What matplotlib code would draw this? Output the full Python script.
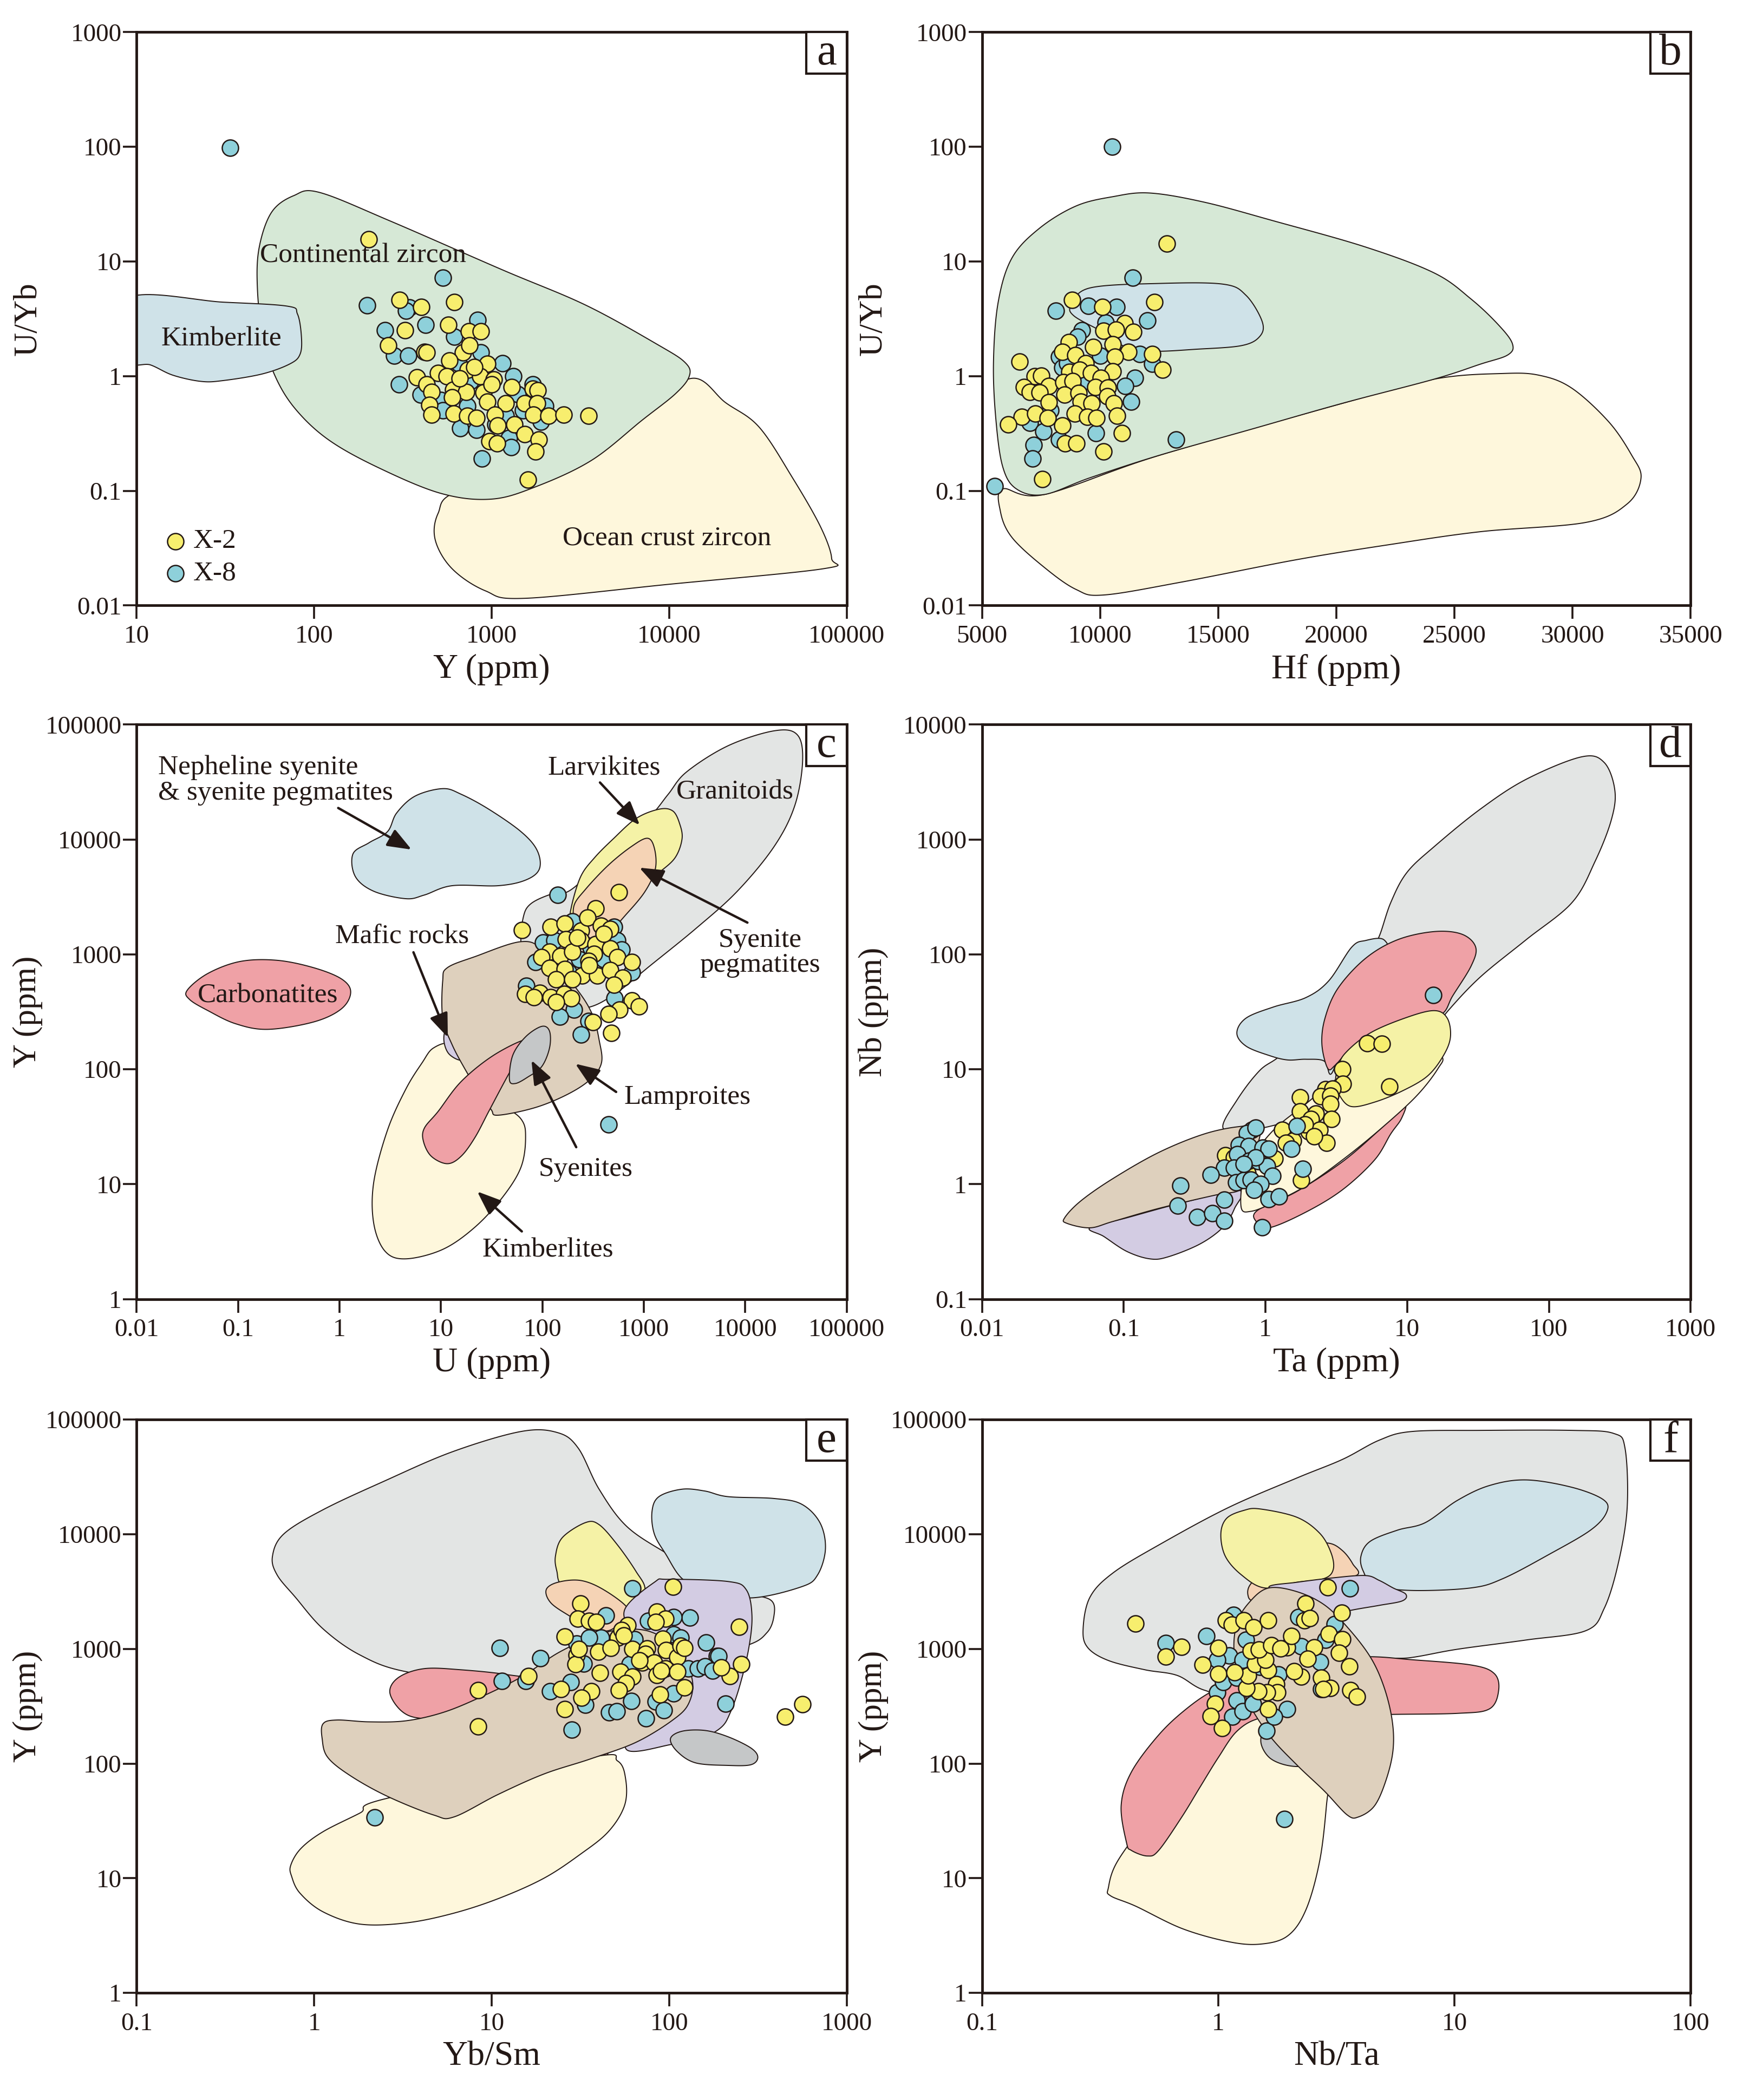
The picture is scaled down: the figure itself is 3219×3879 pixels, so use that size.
import matplotlib
matplotlib.use('Agg')
import matplotlib.pyplot as plt
from matplotlib.patches import Rectangle
import numpy as np

plt.rcParams['font.family'] = ['Liberation Serif', 'DejaVu Serif']

# ---------------- sample data (X-2 yellow, X-8 blue) ----------------
# a: Y (ppm) vs U/Yb
a_y_x2 = [203, 303, 402, 615, 326, 569, 742, 871, 262, 417, 690, 750, 576, 945, 380, 500, 556, 733, 860, 1030,
          431, 458, 607, 720, 897, 1297, 1700, 1810, 447, 600, 945, 1200, 1535, 1800, 458, 613, 730, 820, 1040,
          1720, 2095, 2550, 3520, 1080, 1340, 1535, 1840, 970, 1070, 1760, 1600, 430, 800, 1000, 660]
a_uyb_x2 = [15.6, 4.6, 4.0, 4.4, 2.5, 2.8, 2.45, 2.45, 1.86, 1.63, 1.6, 1.86, 1.36, 1.28, 0.98, 1.06, 1.0, 1.14, 1.0, 0.93,
            0.85, 0.73, 0.76, 0.73, 0.72, 0.8, 0.78, 0.75, 0.56, 0.65, 0.6, 0.58, 0.58, 0.58, 0.46, 0.47, 0.45, 0.43, 0.46,
            0.46, 0.45, 0.46, 0.45, 0.37, 0.38, 0.31, 0.28, 0.27, 0.26, 0.22, 0.125, 1.6, 1.2, 0.85, 0.95]
a_y_x8 = [33.5, 532, 199, 343, 330, 423, 251, 834, 616, 283, 340, 870, 1150, 300, 1320, 1710, 398, 518, 730, 2000,
          530, 1500, 667, 820, 1050, 1250, 1290, 880, 650, 760, 1200, 1900, 1400]
a_uyb_x8 = [98, 7.2, 4.15, 3.96, 3.7, 2.8, 2.5, 3.1, 2.2, 1.5, 1.5, 1.6, 1.3, 0.85, 1.0, 0.85, 0.69, 0.62, 0.55, 0.55,
            0.5, 0.5, 0.35, 0.34, 0.38, 0.29, 0.24, 0.19, 1.3, 0.9, 0.45, 0.4, 0.7]

# b: Hf (ppm) vs U/Yb
b_hf_x2 = [12827, 8807, 10088, 12300, 11027, 10150, 10677, 11405, 8684, 9711, 10527, 8395, 8948, 11203, 12213, 10633,
           12634, 6595, 9386, 10525, 8702, 9140, 9623, 7228, 7517, 6771, 10018, 7824, 8439, 8834, 9800, 10325, 7034,
           7429, 8483, 9097, 10300, 7824, 9184, 9650, 10588, 6683, 7254, 7780, 8921, 9448, 9843, 10720, 6113, 8395,
           10922, 8526, 9009, 10150, 7561]
b_uyb_x2 = [14.3, 4.6, 4.0, 4.4, 2.9, 2.48, 2.55, 2.43, 1.98, 1.8, 1.9, 1.62, 1.52, 1.62, 1.55, 1.48,
            1.13, 1.33, 1.3, 1.1, 1.09, 1.13, 1.07, 1.0, 1.01, 0.8, 0.97, 0.82, 0.88, 0.9, 0.8, 0.79, 0.73,
            0.72, 0.69, 0.71, 0.67, 0.59, 0.6, 0.58, 0.58, 0.44, 0.47, 0.43, 0.47, 0.44, 0.43, 0.45, 0.38, 0.37,
            0.32, 0.26, 0.26, 0.22, 0.126]
b_hf_x8 = [10500, 11387, 5543, 8123, 9492, 10703, 12010, 10238, 9228, 9053, 11686, 8263, 12213, 8395, 11466, 11054,
           11317, 7034, 7605, 9825, 13221, 8263, 7184, 7140, 8700, 9500, 7900, 10000, 8600]
b_uyb_x8 = [100, 7.2, 0.11, 3.7, 4.1, 4.0, 3.06, 2.94, 2.5, 2.2, 1.56, 1.48, 1.28, 1.19, 0.97, 0.82,
            0.6, 0.39, 0.33, 0.32, 0.28, 0.28, 0.25, 0.19, 0.75, 0.9, 0.5, 1.5, 1.3]

# c: U (ppm) vs Y (ppm)
c_u_x2 = [570, 62.5, 333, 120, 167, 241, 279, 379, 465, 171, 241, 335, 465, 118, 151, 197, 322, 284, 548, 760, 98,
          118, 167, 247, 349, 465, 620, 136, 197, 505, 68, 94, 120, 164, 193, 136, 82, 760, 896, 571, 447, 315, 475,
          220, 400, 290]
c_y_x2 = [3470, 1620, 2520, 1730, 1845, 1600, 2090, 1770, 1665, 1352, 1325, 1220, 1122, 1055, 970, 1055, 1010, 875,
          950, 858, 950, 757, 741, 655, 655, 726, 628, 603, 603, 543, 451, 460, 424, 451, 415, 382, 424, 398, 352,
          330, 304, 258, 206, 1400, 1500, 800]
c_u_x8 = [142, 197, 505, 548, 102, 131, 85, 760, 232, 69, 205, 148, 515, 284, 241, 450, 400, 180, 600, 300]
c_y_x8 = [3300, 1940, 1735, 1325, 1270, 1325, 858, 697, 900, 532, 330, 286, 415, 263, 200, 33, 900, 700, 1100, 1150]

# d: Ta (ppm) vs Nb (ppm)
d_ta_x2 = [5.2, 6.6, 3.47, 3.5, 7.5, 2.66, 2.98, 2.45, 2.87, 2.87, 1.76, 1.76, 2.27, 2.1, 2.93, 1.31, 2.02, 2.41,
           2.71, 1.56, 1.39, 0.52, 1.16, 1.79, 0.6, 0.75, 1.9, 2.2]
d_nb_x2 = [16.8, 16.6, 10, 7.5, 7.1, 6.7, 6.8, 5.8, 5.9, 5.0, 5.7, 4.3, 4.1, 3.7, 3.7, 2.97, 2.87, 2.97,
           2.3, 2.4, 2.3, 1.79, 1.67, 1.08, 1.7, 1.25, 3.3, 2.6]
d_ta_x8 = [15.3, 1.66, 1.53, 0.8, 0.74, 0.85, 0.65, 0.76, 0.96, 1.05, 0.63, 0.77, 0.89, 0.51, 0.41, 0.6, 1.03, 1.83,
           1.12, 0.62, 0.7, 0.79, 0.92, 0.83, 0.25, 0.24, 0.51, 0.33, 0.42, 0.51, 1.05, 1.24, 0.95, 0.85, 0.7]
d_nb_x8 = [44, 3.2, 2.03, 2.97, 2.77, 3.1, 2.2, 2.15, 2.07, 2.03, 1.82, 1.6, 1.58, 1.39, 1.2, 1.39, 1.44, 1.36,
           1.18, 1.04, 1.08, 1.1, 1.0, 0.89, 0.97, 0.65, 0.73, 0.52, 0.56, 0.48, 0.74, 0.78, 0.42, 1.7, 1.5]

# e: Yb/Sm vs Y (ppm)
e_ybsm_x2 = [565, 451, 105, 248, 254, 219, 197, 85, 95, 84, 31.6, 30.6, 35.3, 38.8, 25.8, 30.2, 29.7, 40, 51.4, 46.8,
             58.2, 53.8, 62, 75, 73.6, 70.3, 82, 92, 96, 111, 116, 122, 95, 85, 111, 122, 89, 53, 62, 57, 52, 40.6,
             36.4, 32, 24.6, 25.8, 16.1, 8.4, 8.4, 31, 55.6, 68, 90]
e_y_x2 = [329, 256, 3480, 1550, 733, 582, 688, 2120, 1830, 1720, 2480, 1830, 1760, 1720, 1282, 883, 733, 940, 1258,
          1021, 1614, 1455, 1000, 1010, 902, 763, 763, 1232, 977, 848, 1064, 1021, 673, 594, 632, 463, 400, 632, 570,
          504, 436, 620, 427, 376, 445, 299, 582, 437, 211, 1000, 1312, 795, 646]
e_ybsm_x8 = [62, 186, 161, 207, 131, 106, 76, 44, 30.2, 33, 41.3, 64, 106, 84, 93, 74, 61, 46, 50.6, 21.4, 27.9,
             33.6, 28.3, 15.6, 11.4, 11.1, 18.8, 35.3, 128, 145, 159, 175, 189, 106, 116, 60, 2.2]
e_y_x8 = [3370, 865, 1133, 332, 1866, 1900, 1750, 1950, 1110, 747, 1258, 1208, 408, 346, 293, 248, 353, 281, 286,
          427, 514, 325, 197, 525, 525, 1021, 830, 1258, 673, 673, 702, 646, 865, 1340, 1258, 733, 34]

# f: Nb/Ta vs Y (ppm)
f_nbta_x2 = [0.446, 0.6, 0.7, 1.0, 0.86, 1.0, 0.97, 0.93, 1.04, 1.63, 1.08, 1.14, 1.28, 1.41, 1.63, 2.34, 2.31, 2.44,
             2.9, 3.33, 2.94, 3.36, 2.55, 3.25, 3.58, 3.62, 3.87, 2.73, 2.98, 2.79, 2.39, 2.24, 2.09, 1.96, 2.04, 1.76,
             1.78, 1.61, 1.48, 1.32, 1.34, 1.17, 1.43, 1.63, 1.58, 1.37, 1.49, 1.68, 1.84]
f_y_x2 = [1656, 861, 1045, 1021, 728, 608, 334, 258, 203, 298, 1770, 1620, 1770, 1546, 1770, 2483, 1770, 1854,
          3436, 2070, 1350, 1216, 1030, 920, 708, 437, 382, 560, 458, 447, 822, 573, 641, 1030, 1291, 490,
          418, 418, 428, 457, 586, 627, 735, 656, 803, 964, 984, 1078, 1008]
f_nbta_x8 = [0.6, 0.89, 0.99, 1.15, 1.2, 1.27, 1.4, 1.6, 1.96, 1.72, 1.16, 2.19, 3.6, 3.11, 2.85, 1.31, 1.11, 0.99,
             1.05, 1.2, 1.27, 2.24, 2.7, 2.73, 1.91, 1.5, 1.8]
f_y_x8 = [1128, 1291, 418, 255, 357, 285, 334, 194, 298, 255, 1980, 1893, 3375, 1650, 1205, 1205, 879, 803,
          512, 560, 803, 1054, 767, 447, 32.7, 700, 600]

# ---------------- discrimination fields (outline vertices; log10 units on log axes) ----------------
a_ocean = [(4.129, -0.019), (4.318, -0.232), (4.506, -0.444), (4.695, -0.888), (4.852, -1.313), (4.915, -1.591),
           (4.868, -1.68), (4.003, -1.815), (3.186, -1.938), (2.965, -1.873), (2.777, -1.68), (2.682, -1.429),
           (2.698, -1.197), (2.808, -1.004), (3.374, -0.772), (3.846, -0.309)]
a_continental = [(2.03, 1.602), (2.431, 1.351), (3.06, 0.927), (3.531, 0.618), (3.94, 0.27), (4.091, 0.116),
                 (4.113, 0.0), (4.035, -0.154), (3.846, -0.386), (3.563, -0.734), (3.248, -0.965), (2.997, -1.073),
                 (2.714, -1.023), (2.368, -0.803), (2.085, -0.56), (1.896, -0.29), (1.78, 0.0), (1.71, 0.347),
                 (1.68, 0.772), (1.69, 1.12), (1.76, 1.429), (1.885, 1.574)]
a_kimberlite = [(0.95, 0.68), (1.487, 0.645), (1.849, 0.61), (1.906, 0.541), (1.928, 0.347), (1.921, 0.193),
                (1.865, 0.108), (1.708, 0.019), (1.487, -0.039), (1.362, -0.046), (1.204, 0.008), (1.079, 0.097),
                (0.95, 0.15)]

b_ocean = [(5875, -0.984), (5778, -1.179), (6264, -1.406), (7624, -1.666), (8985, -1.861), (10152, -1.909),
           (13456, -1.796), (18316, -1.601), (22204, -1.471), (26092, -1.357), (30564, -1.276), (32314, -1.114),
           (32897, -0.887), (32508, -0.692), (31536, -0.4), (29980, -0.107), (28620, 0.006), (27064, 0.023),
           (24148, -0.026), (20260, -0.237), (12484, -0.692), (7624, -1.033)]
b_continental = [(10540, 1.565), (12096, 1.597), (14428, 1.516), (17344, 1.354), (21232, 1.126), (24148, 0.899),
                 (25703, 0.672), (26870, 0.445), (27453, 0.282), (27259, 0.185), (26092, 0.104), (24148, -0.026),
                 (20260, -0.237), (16372, -0.465), (12484, -0.692), (9568, -0.887), (7624, -1.033), (6458, -0.984),
                 (5875, -0.789), (5583, -0.367), (5486, 0.12), (5680, 0.639), (6264, 1.029), (7430, 1.289),
                 (8985, 1.484)]
b_kimberlite = [(8791, 0.623), (9568, 0.769), (12484, 0.808), (15206, 0.802), (16178, 0.704), (16858, 0.477),
                (16761, 0.347), (15984, 0.266), (14040, 0.234), (12290, 0.217), (11124, 0.25), (10152, 0.38),
                (8888, 0.526)]

c_nepheline = [(0.132, 3.873), (0.291, 3.971), (0.473, 4.068), (0.563, 4.23), (0.745, 4.377), (1.017, 4.442),
               (1.199, 4.393), (1.471, 4.263), (1.788, 4.068), (1.947, 3.906), (1.97, 3.743), (1.834, 3.646),
               (1.562, 3.597), (1.108, 3.597), (0.836, 3.516), (0.654, 3.484), (0.337, 3.549), (0.155, 3.678)]
c_carbonatite = [(-1.501, 2.688), (-1.297, 2.834), (-0.979, 2.938), (-0.616, 2.948), (-0.253, 2.883), (0.019, 2.786),
                 (0.11, 2.672), (0.019, 2.526), (-0.253, 2.412), (-0.707, 2.347), (-1.025, 2.396), (-1.297, 2.51),
                 (-1.478, 2.607)]
c_granitoid = [(1.811, 3.321), (1.879, 3.435), (2.061, 3.516), (2.287, 3.565), (2.696, 3.906), (3.059, 4.198),
               (3.24, 4.393), (3.422, 4.588), (3.83, 4.815), (4.284, 4.945), (4.511, 4.912), (4.565, 4.685),
               (4.488, 4.295), (4.284, 3.938), (3.921, 3.549), (3.512, 3.224), (3.059, 2.899), (2.741, 2.672),
               (2.469, 2.542), (2.197, 2.542), (1.97, 2.639), (1.834, 2.802), (1.788, 3.094)]
c_larvikite = [(2.287, 3.419), (2.378, 3.678), (2.514, 3.841), (2.696, 4.003), (2.923, 4.182), (3.15, 4.263),
               (3.286, 4.247), (3.354, 4.133), (3.376, 4.003), (3.308, 3.841), (3.15, 3.711), (2.923, 3.549),
               (2.696, 3.354), (2.424, 3.256), (2.287, 3.305)]
c_syen_peg = [(2.31, 3.419), (2.424, 3.565), (2.65, 3.776), (2.877, 3.938), (3.036, 4.01), (3.104, 3.922),
              (3.113, 3.743), (3.013, 3.549), (2.832, 3.354), (2.65, 3.191), (2.469, 3.143), (2.333, 3.256)]
c_kimberlite = [(0.926, 2.185), (1.108, 2.217), (1.289, 2.023), (1.562, 1.73), (1.788, 1.568), (1.834, 1.406),
                (1.788, 1.146), (1.607, 0.886), (1.335, 0.626), (1.017, 0.432), (0.654, 0.35), (0.45, 0.415),
                (0.337, 0.659), (0.337, 1.016), (0.473, 1.471), (0.654, 1.828), (0.813, 2.055)]
c_mafic = [(1.04, 2.331), (1.108, 2.396), (1.162, 2.347), (1.235, 2.104), (1.176, 2.081), (1.076, 2.136),
           (1.031, 2.234)]
c_lamproite = [(1.017, 2.769), (1.062, 2.883), (1.335, 2.98), (1.788, 3.11), (2.015, 3.029), (2.333, 2.704),
               (2.492, 2.477), (2.56, 2.25), (2.582, 2.055), (2.469, 1.909), (2.242, 1.779), (1.924, 1.665),
               (1.562, 1.6), (1.494, 1.649), (1.38, 1.795), (1.244, 1.99), (1.108, 2.217), (1.017, 2.445)]
c_carbonatite2 = [(0.836, 1.487), (0.972, 1.633), (1.199, 1.893), (1.516, 2.12), (1.834, 2.256), (1.766, 2.12),
                  (1.607, 1.86), (1.471, 1.633), (1.335, 1.406), (1.199, 1.243), (1.062, 1.178), (0.904, 1.243),
                  (0.827, 1.373)]
c_syenite = [(1.675, 1.909), (1.707, 2.12), (1.834, 2.282), (1.993, 2.373), (2.07, 2.331), (2.07, 2.185),
             (1.993, 2.023), (1.856, 1.932), (1.734, 1.876)]

d_granitoid = [(-0.299, 0.487), (-0.202, 0.73), (-0.04, 0.99), (0.155, 1.185), (0.479, 1.769), (0.738, 2.029),
               (0.803, 2.159), (0.884, 2.451), (0.997, 2.711), (1.191, 2.938), (1.515, 3.263), (1.839, 3.523),
               (2.228, 3.718), (2.39, 3.669), (2.465, 3.425), (2.439, 3.166), (2.325, 2.808), (2.163, 2.451),
               (1.839, 2.127), (1.515, 1.802), (1.289, 1.51), (1.191, 1.347), (1.029, 1.185), (0.803, 0.925),
               (0.543, 0.73), (0.219, 0.568), (-0.105, 0.471)]
d_nepheline = [(-0.202, 1.315), (-0.137, 1.445), (0.057, 1.542), (0.284, 1.623), (0.446, 1.769), (0.608, 2.062),
               (0.705, 2.12), (0.835, 2.127), (0.867, 1.964), (0.738, 1.607), (0.543, 1.185), (0.462, 0.958),
               (0.414, 1.071), (0.284, 1.087), (0.155, 1.081), (0.025, 1.12), (-0.137, 1.201)]
d_carbonatite = [(0.398, 1.217), (0.42, 1.445), (0.511, 1.704), (0.705, 1.964), (0.932, 2.127), (1.191, 2.198),
                 (1.386, 2.175), (1.483, 2.062), (1.451, 1.899), (1.321, 1.639), (1.24, 1.477), (1.029, 1.412),
                 (0.803, 1.315), (0.608, 1.185), (0.495, 1.039), (0.44, 1.006)]
d_mafic = [(-1.239, -0.38), (-0.979, -0.293), (-0.591, -0.163), (-0.186, -0.055), (-0.218, -0.211), (-0.299, -0.374),
           (-0.461, -0.52), (-0.688, -0.633), (-0.817, -0.65), (-0.979, -0.585), (-1.141, -0.455)]
d_lamproite = [(-1.417, -0.293), (-1.303, -0.146), (-1.077, 0.048), (-0.753, 0.276), (-0.429, 0.438), (-0.17, 0.503),
               (-0.04, 0.487), (-0.072, 0.276), (-0.137, 0.048), (-0.186, -0.055), (-0.364, -0.098), (-0.753, -0.211),
               (-1.077, -0.325), (-1.239, -0.38), (-1.401, -0.341)]
d_carbonatite2 = [(-0.066, -0.325), (-0.056, -0.228), (0.219, -0.065), (0.543, 0.195), (0.803, 0.471), (0.981, 0.682),
                  (0.958, 0.568), (0.884, 0.438), (0.77, 0.211), (0.543, -0.049), (0.284, -0.244), (0.025, -0.38)]
d_kimberlite = [(-0.17, -0.211), (-0.163, 0.016), (-0.105, 0.211), (0.057, 0.471), (0.284, 0.698), (0.511, 0.925),
                (0.738, 1.12), (1.062, 1.282), (1.24, 1.12), (1.217, 1.006), (1.062, 0.763), (0.803, 0.471),
                (0.543, 0.211), (0.284, -0.016), (0.025, -0.179), (-0.105, -0.237)]
d_larvikite = [(0.511, 1.006), (0.56, 1.136), (0.738, 1.315), (0.997, 1.451), (1.191, 1.51), (1.282, 1.445),
               (1.305, 1.282), (1.256, 1.12), (1.143, 0.941), (0.965, 0.811), (0.77, 0.714), (0.608, 0.675),
               (0.527, 0.763), (0.495, 0.893)]

e_granitoid = [(-0.235, 3.808), (-0.171, 4.003), (0.05, 4.214), (0.387, 4.458), (0.776, 4.718), (1.164, 4.896),
               (1.372, 4.886), (1.488, 4.75), (1.605, 4.393), (1.761, 4.068), (1.994, 3.825), (2.227, 3.614),
               (2.46, 3.484), (2.577, 3.419), (2.59, 3.289), (2.551, 3.143), (2.434, 3.029), (2.072, 2.899),
               (1.553, 2.769), (1.035, 2.704), (0.516, 2.802), (0.257, 2.948), (0.05, 3.175), (-0.106, 3.451),
               (-0.209, 3.646)]
e_nepheline = [(1.903, 4.198), (1.942, 4.328), (2.072, 4.393), (2.201, 4.377), (2.331, 4.328), (2.59, 4.312),
               (2.745, 4.263), (2.849, 4.101), (2.88, 3.873), (2.836, 3.646), (2.745, 3.542), (2.46, 3.445),
               (2.201, 3.516), (2.072, 3.614), (1.981, 3.825), (1.916, 4.003)]
e_larvikite = [(1.359, 3.808), (1.398, 3.971), (1.527, 4.101), (1.605, 4.084), (1.709, 3.906), (1.812, 3.678),
               (1.864, 3.516), (1.812, 3.321), (1.735, 3.224), (1.657, 3.289), (1.553, 3.419), (1.398, 3.549),
               (1.367, 3.678)]
e_syen_peg = [(1.307, 3.516), (1.372, 3.581), (1.501, 3.597), (1.631, 3.516), (1.766, 3.354), (1.735, 3.25),
              (1.657, 3.159), (1.553, 3.191), (1.437, 3.289), (1.333, 3.402)]
e_mafic = [(1.748, 3.338), (1.916, 3.581), (1.994, 3.607), (2.331, 3.588), (2.434, 3.516), (2.466, 3.289),
           (2.447, 2.997), (2.396, 2.672), (2.344, 2.445), (2.292, 2.315), (2.175, 2.217), (2.02, 2.169),
           (1.761, 2.12), (1.812, 2.445), (1.942, 2.769), (1.812, 3.094)]
e_carbonatite = [(0.426, 2.623), (0.477, 2.753), (0.62, 2.828), (0.827, 2.818), (1.087, 2.776), (1.294, 2.704),
                 (1.553, 2.445), (1.657, 2.185), (1.631, 2.023), (1.553, 1.974), (1.501, 2.006), (1.294, 2.185),
                 (1.035, 2.315), (0.776, 2.412), (0.594, 2.396), (0.49, 2.461)]
e_kimberlite = [(-0.132, 1.113), (-0.075, 1.259), (0.05, 1.406), (0.257, 1.568), (0.413, 1.698), (1.553, 2.055),
                (1.709, 2.023), (1.755, 1.86), (1.748, 1.633), (1.657, 1.406), (1.501, 1.211), (1.294, 1.0),
                (1.035, 0.821), (0.776, 0.691), (0.516, 0.61), (0.257, 0.6), (0.05, 0.707), (-0.08, 0.87),
                (-0.127, 1.016)]
e_lamproite = [(0.05, 2.347), (0.128, 2.38), (0.309, 2.364), (0.516, 2.373), (0.724, 2.445), (0.931, 2.575),
               (1.164, 2.753), (1.372, 2.964), (1.553, 3.094), (1.709, 3.165), (1.89, 3.152), (2.046, 2.997),
               (2.129, 2.737), (2.11, 2.526), (2.02, 2.38), (1.812, 2.185), (1.553, 2.039), (1.294, 1.909),
               (1.035, 1.73), (0.788, 1.535), (0.672, 1.552), (0.413, 1.714), (0.205, 1.893), (0.076, 2.055),
               (0.045, 2.217)]
e_syenite = [(2.007, 2.217), (2.072, 2.282), (2.201, 2.289), (2.331, 2.234), (2.46, 2.136), (2.499, 2.055),
             (2.46, 1.99), (2.331, 1.984), (2.149, 2.006), (2.046, 2.104)]

f_granitoid = [(-0.572, 3.175), (-0.543, 3.451), (-0.446, 3.662), (-0.252, 3.906), (0.04, 4.23), (0.332, 4.49),
               (0.526, 4.653), (0.682, 4.821), (0.818, 4.896), (1.109, 4.906), (1.498, 4.906), (1.673, 4.88),
               (1.722, 4.75), (1.731, 4.23), (1.693, 3.743), (1.634, 3.354), (1.556, 3.159), (1.304, 3.078),
               (1.012, 2.997), (0.818, 2.925), (0.623, 2.883), (0.137, 2.575), (-0.057, 2.639), (-0.174, 2.769),
               (-0.31, 2.818), (-0.465, 2.899), (-0.553, 3.013)]
f_nepheline = [(0.604, 3.808), (0.643, 3.938), (0.759, 4.036), (0.876, 4.101), (1.012, 4.295), (1.148, 4.425),
               (1.304, 4.474), (1.498, 4.409), (1.63, 4.302), (1.644, 4.192), (1.576, 4.036), (1.401, 3.825),
               (1.206, 3.614), (1.07, 3.532), (0.818, 3.51), (0.662, 3.555), (0.614, 3.678)]
f_syen_peg = [(0.128, 3.451), (0.137, 3.565), (0.234, 3.743), (0.371, 3.906), (0.468, 3.922), (0.526, 3.857),
              (0.569, 3.743), (0.584, 3.64), (0.409, 3.581), (0.254, 3.532), (0.196, 3.484), (0.157, 3.419)]
f_larvikite = [(0.011, 4.003), (0.036, 4.14), (0.108, 4.208), (0.176, 4.221), (0.332, 4.149), (0.429, 4.01),
               (0.477, 3.841), (0.487, 3.695), (0.448, 3.614), (0.332, 3.581), (0.196, 3.532), (0.098, 3.646),
               (0.03, 3.808)]
f_mafic = [(0.215, 3.542), (0.332, 3.581), (0.487, 3.62), (0.623, 3.64), (0.682, 3.597), (0.74, 3.532),
           (0.794, 3.477), (0.779, 3.419), (0.682, 3.38), (0.565, 3.338), (0.468, 3.289), (0.371, 3.354),
           (0.293, 3.451)]
f_kimberlite = [(-0.465, 0.918), (-0.427, 1.146), (-0.29, 1.535), (-0.154, 1.86), (-0.018, 2.185), (0.137, 2.373),
                (0.234, 2.386), (0.371, 2.25), (0.468, 2.023), (0.458, 1.633), (0.429, 1.146), (0.371, 0.724),
                (0.293, 0.496), (0.176, 0.425), (0.04, 0.448), (-0.154, 0.562), (-0.349, 0.756), (-0.456, 0.847)]
f_carbonatite = [(-0.388, 1.308), (-0.411, 1.633), (-0.368, 1.925), (-0.252, 2.25), (-0.135, 2.477), (-0.018, 2.639),
                 (0.137, 2.769), (0.332, 2.899), (0.623, 2.932), (0.818, 2.906), (1.07, 2.86), (1.168, 2.786),
                 (1.187, 2.639), (1.148, 2.477), (1.012, 2.438), (0.72, 2.428), (0.526, 2.412), (0.332, 2.428),
                 (0.176, 2.396), (0.079, 2.282), (0.001, 2.055), (-0.077, 1.795), (-0.154, 1.535), (-0.252, 1.243),
                 (-0.3, 1.194), (-0.368, 1.243)]
f_syenite = [(0.18, 2.201), (0.215, 2.347), (0.332, 2.331), (0.419, 2.12), (0.371, 1.99), (0.293, 1.984),
             (0.215, 2.055)]
f_lamproite = [(0.215, 3.532), (0.332, 3.5), (0.448, 3.386), (0.546, 3.191), (0.643, 2.932), (0.701, 2.672),
               (0.736, 2.38), (0.74, 2.12), (0.711, 1.86), (0.662, 1.633), (0.594, 1.535), (0.546, 1.552),
               (0.448, 1.763), (0.332, 1.99), (0.215, 2.25), (0.118, 2.575), (0.069, 2.932), (0.079, 3.224),
               (0.137, 3.419)]

# ---------------- colours ----------------
YEL = '#F7EE6E'
BLU = '#8ED0DA'
EDGE = '#231815'
GREEN = '#D6E8D6'
LBLUE = '#CFE2E8'
CREAM = '#FEF7DC'
GRAY = '#E3E5E4'
LARV = '#F5F2A6'
ORANGE = '#F5D3B5'
TAN = '#DED0BD'
LAV = '#D3CCE3'
PINK = '#EFA1A6'
DGRAY = '#C5C7C8'


def smooth(pts, n=24):
    # closed Catmull-Rom through the outline vertices
    p = np.asarray(pts, float)
    p0, p1, p2, p3 = np.roll(p, 1, 0), p, np.roll(p, -1, 0), np.roll(p, -2, 0)
    t = np.linspace(0, 1, n, endpoint=False)[:, None, None]
    c = 0.5 * (2 * p1 + (p2 - p0) * t + (2 * p0 - 5 * p1 + 4 * p2 - p3) * t ** 2
               + (3 * p1 - p0 - 3 * p2 + p3) * t ** 3)
    return c.transpose(1, 0, 2).reshape(-1, 2)


def field(ax, pts, color, xlog=True):
    s = smooth(pts)
    x = 10 ** s[:, 0] if xlog else s[:, 0]
    y = 10 ** s[:, 1]
    ax.fill(x, y, facecolor=color, edgecolor=EDGE, lw=1.4, zorder=1)


def dots(ax, x8, y8, x2, y2, blue_on_top=False):
    z8, z2 = (4, 3) if blue_on_top else (3, 4)
    ax.scatter(x8, y8, s=470, c=BLU, edgecolors=EDGE, linewidths=1.8, zorder=z8)
    ax.scatter(x2, y2, s=470, c=YEL, edgecolors=EDGE, linewidths=1.8, zorder=z2)


def style(ax, xt, xl, yt, yl, xlabel, ylabel, letter, xlog=True):
    if xlog:
        ax.set_xscale('log')
    ax.set_yscale('log')
    ax.set_xlim(xt[0], xt[-1])
    ax.set_ylim(yt[0], yt[-1])
    ax.set_xticks(xt, xl)
    ax.set_yticks(yt, yl)
    ax.minorticks_off()
    ax.tick_params(direction='out', length=18, width=2.6, labelsize=34,
                   top=False, right=False, colors=EDGE)
    ax.tick_params(axis='x', pad=8)
    ax.tick_params(axis='y', pad=2)
    for sp in ax.spines.values():
        sp.set_linewidth(3.5)
        sp.set_color(EDGE)
    ax.set_xlabel(xlabel, fontsize=46, labelpad=8, color=EDGE)
    ax.set_ylabel(ylabel, fontsize=44, color=EDGE)
    ax.yaxis.set_label_coords(-0.132, 0.5)
    ax.add_patch(Rectangle((0.943, 0.928), 0.057, 0.072, transform=ax.transAxes,
                           fc='white', ec=EDGE, lw=3, zorder=6, clip_on=False))
    ax.text(0.9715, 0.962, letter, transform=ax.transAxes, ha='center', va='center',
            fontsize=60, color=EDGE, zorder=7)


def label(ax, x, y, s, **kw):
    ax.text(x, y, s, transform=ax.transAxes, fontsize=37, color=EDGE, zorder=5,
            ha=kw.pop('ha', 'center'), va='center', **kw)


def arrow(ax, tail, tip):
    ax.annotate('', xy=tip, xytext=tail, xycoords='axes fraction', textcoords='axes fraction',
                arrowprops=dict(arrowstyle='-|>,head_length=0.9,head_width=0.35', lw=3.2,
                                color=EDGE, mutation_scale=30), zorder=5)


fig = plt.figure(figsize=(32.19, 38.79), dpi=100)
ax_a = fig.add_axes([0.0784, 0.7117, 0.4074, 0.2730])
ax_b = fig.add_axes([0.5634, 0.7117, 0.4066, 0.2730])
ax_c = fig.add_axes([0.0784, 0.3814, 0.4074, 0.2736])
ax_d = fig.add_axes([0.5634, 0.3814, 0.4066, 0.2736])
ax_e = fig.add_axes([0.0784, 0.0510, 0.4074, 0.2730])
ax_f = fig.add_axes([0.5634, 0.0510, 0.4066, 0.2730])

uyb_ticks = [0.01, 0.1, 1, 10, 100, 1000]
uyb_labels = ['0.01', '0.1', '1', '10', '100', '1000']

# ---- a ----
for pts, col in [(a_ocean, CREAM), (a_continental, GREEN), (a_kimberlite, LBLUE)]:
    field(ax_a, pts, col)
dots(ax_a, a_y_x8, a_uyb_x8, a_y_x2, a_uyb_x2)
style(ax_a, [10, 100, 1000, 10000, 100000], ['10', '100', '1000', '10000', '100000'],
      uyb_ticks, uyb_labels, 'Y (ppm)', 'U/Yb', 'a')
label(ax_a, 0.319, 0.61, 'Continental zircon')
label(ax_a, 0.119, 0.465, 'Kimberlite')
label(ax_a, 0.747, 0.117, 'Ocean crust zircon')
ax_a.scatter([0.055], [0.112], s=470, c=YEL, edgecolors=EDGE, linewidths=1.8, transform=ax_a.transAxes, zorder=5)
ax_a.scatter([0.055], [0.056], s=470, c=BLU, edgecolors=EDGE, linewidths=1.8, transform=ax_a.transAxes, zorder=5)
label(ax_a, 0.08, 0.112, 'X-2', ha='left')
label(ax_a, 0.08, 0.056, 'X-8', ha='left')

# ---- b ----
for pts, col in [(b_ocean, CREAM), (b_continental, GREEN), (b_kimberlite, LBLUE)]:
    field(ax_b, pts, col, xlog=False)
dots(ax_b, b_hf_x8, b_uyb_x8, b_hf_x2, b_uyb_x2)
hf_ticks = [5000, 10000, 15000, 20000, 25000, 30000, 35000]
style(ax_b, hf_ticks, [str(v) for v in hf_ticks], uyb_ticks, uyb_labels,
      'Hf (ppm)', 'U/Yb', 'b', xlog=False)

# ---- c ----
for pts, col in [(c_nepheline, LBLUE), (c_carbonatite, PINK), (c_granitoid, GRAY), (c_larvikite, LARV),
                 (c_syen_peg, ORANGE), (c_kimberlite, CREAM), (c_mafic, LAV), (c_lamproite, TAN),
                 (c_carbonatite2, PINK), (c_syenite, DGRAY)]:
    field(ax_c, pts, col)
dots(ax_c, c_u_x8, c_y_x8, c_u_x2, c_y_x2)
style(ax_c, [0.01, 0.1, 1, 10, 100, 1000, 10000, 100000],
      ['0.01', '0.1', '1', '10', '100', '1000', '10000', '100000'],
      [1, 10, 100, 1000, 10000, 100000], ['1', '10', '100', '1000', '10000', '100000'],
      'U (ppm)', 'Y (ppm)', 'c')
label(ax_c, 0.0305, 0.903, 'Nepheline syenite\n& syenite pegmatites', ha='left', linespacing=1.0)
label(ax_c, 0.658, 0.924, 'Larvikites')
label(ax_c, 0.8425, 0.882, 'Granitoids')
label(ax_c, 0.878, 0.603, 'Syenite\npegmatites', linespacing=1.0)
label(ax_c, 0.374, 0.6305, 'Mafic rocks')
label(ax_c, 0.185, 0.528, 'Carbonatites')
label(ax_c, 0.776, 0.351, 'Lamproites')
label(ax_c, 0.632, 0.226, 'Syenites')
label(ax_c, 0.579, 0.085, 'Kimberlites')
arrow(ax_c, (0.282, 0.856), (0.389, 0.781))
arrow(ax_c, (0.651, 0.901), (0.710, 0.823))
arrow(ax_c, (0.862, 0.654), (0.706, 0.752))
arrow(ax_c, (0.389, 0.606), (0.439, 0.453))
arrow(ax_c, (0.677, 0.359), (0.616, 0.411))
arrow(ax_c, (0.620, 0.262), (0.555, 0.418))
arrow(ax_c, (0.544, 0.116), (0.478, 0.189))

# ---- d ----
for pts, col in [(d_granitoid, GRAY), (d_nepheline, LBLUE), (d_carbonatite, PINK), (d_mafic, LAV),
                 (d_lamproite, TAN), (d_carbonatite2, PINK), (d_kimberlite, CREAM), (d_larvikite, LARV)]:
    field(ax_d, pts, col)
dots(ax_d, d_ta_x8, d_nb_x8, d_ta_x2, d_nb_x2, blue_on_top=True)
style(ax_d, [0.01, 0.1, 1, 10, 100, 1000], ['0.01', '0.1', '1', '10', '100', '1000'],
      [0.1, 1, 10, 100, 1000, 10000], ['0.1', '1', '10', '100', '1000', '10000'],
      'Ta (ppm)', 'Nb (ppm)', 'd')

# ---- e ----
for pts, col in [(e_granitoid, GRAY), (e_nepheline, LBLUE), (e_larvikite, LARV), (e_syen_peg, ORANGE),
                 (e_mafic, LAV), (e_carbonatite, PINK), (e_kimberlite, CREAM), (e_lamproite, TAN),
                 (e_syenite, DGRAY)]:
    field(ax_e, pts, col)
dots(ax_e, e_ybsm_x8, e_y_x8, e_ybsm_x2, e_y_x2)
style(ax_e, [0.1, 1, 10, 100, 1000], ['0.1', '1', '10', '100', '1000'],
      [1, 10, 100, 1000, 10000, 100000], ['1', '10', '100', '1000', '10000', '100000'],
      'Yb/Sm', 'Y (ppm)', 'e')

# ---- f ----
for pts, col in [(f_granitoid, GRAY), (f_nepheline, LBLUE), (f_syen_peg, ORANGE), (f_larvikite, LARV),
                 (f_mafic, LAV), (f_kimberlite, CREAM), (f_carbonatite, PINK), (f_syenite, DGRAY),
                 (f_lamproite, TAN)]:
    field(ax_f, pts, col)
dots(ax_f, f_nbta_x8, f_y_x8, f_nbta_x2, f_y_x2)
style(ax_f, [0.1, 1, 10, 100], ['0.1', '1', '10', '100'],
      [1, 10, 100, 1000, 10000, 100000], ['1', '10', '100', '1000', '10000', '100000'],
      'Nb/Ta', 'Y (ppm)', 'f')

fig.savefig('out.png', dpi=100, facecolor='white')
